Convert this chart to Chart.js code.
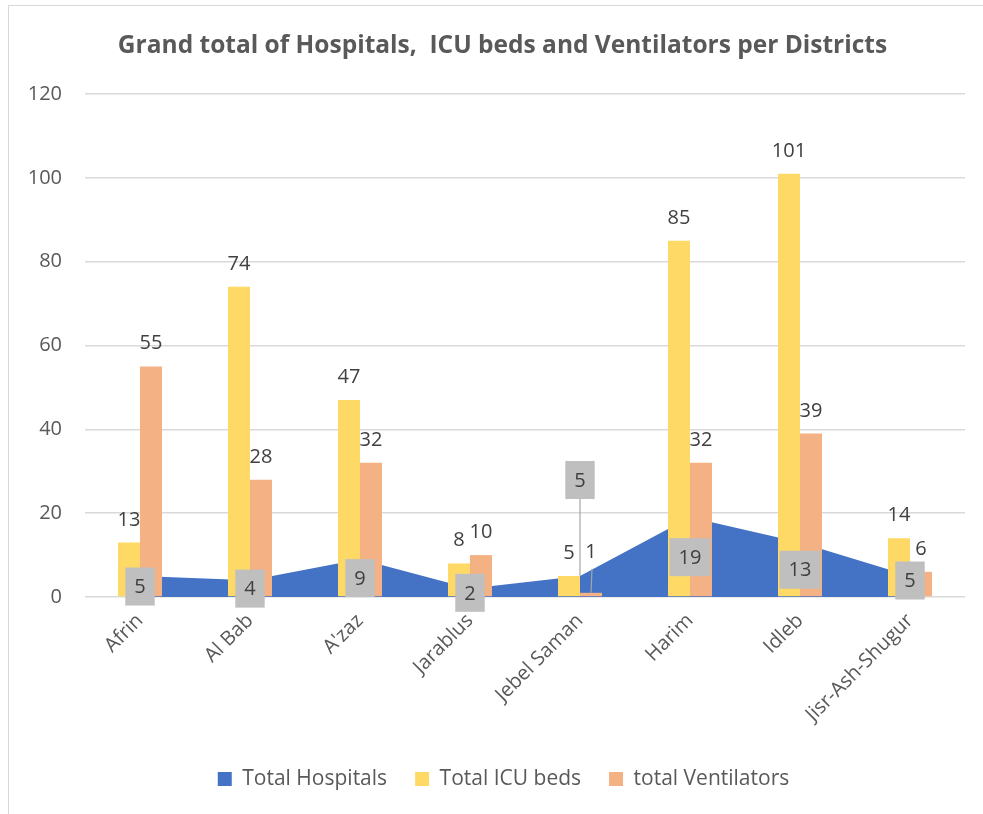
<!DOCTYPE html>
<html>
<head>
<meta charset="utf-8">
<script src="https://cdn.jsdelivr.net/npm/chart.js@4.4.0/dist/chart.umd.min.js"></script>
<style>
  html, body { margin: 0; padding: 0; background: #ffffff; overflow: hidden; }
  #wrap { position: relative; width: 983px; height: 814px; }
  #frame { position: absolute; left: 8px; top: 5px; width: 1000px; height: 830px; border: 1px solid #D9D9D9; box-sizing: border-box; }
  canvas { position: absolute; left: 0; top: 0; }
</style>
</head>
<body>
<div id="wrap">
  <div id="frame"></div>
  <canvas id="c" width="983" height="814"></canvas>
</div>
<script>
const categories = ['Afrin', 'Al Bab', "A'zaz", 'Jarablus', 'Jebel Saman', 'Harim', 'Idleb', 'Jisr-Ash-Shugur'];
const totalHospitals = [5, 4, 9, 2, 5, 19, 13, 5];
const totalIcuBeds = [13, 74, 47, 8, 5, 85, 101, 14];
const totalVentilators = [55, 28, 32, 10, 1, 32, 39, 6];
const seriesNames = ['Total Hospitals', 'Total ICU beds', 'total Ventilators'];
const chartTitle = 'Grand total of Hospitals,  ICU beds and Ventilators per Districts';

const FONT = '"Open Sans", Lato, sans-serif';
const TEXT = '#404040';
const MUTED = '#595959';

// shift title and legend so they are centred on the outer chart frame
const centerShift = {
  id: 'centerShift',
  afterLayout(chart) {
    if (chart.legend) chart.legend.left += 42;
    if (chart.titleBlock) chart.titleBlock.left += 40;
  }
};

const labelPlugin = {
  id: 'valueLabels',
  afterDatasetsDraw(chart) {
    const ctx = chart.ctx;
    const y = chart.scales.y;
    const base = y.getPixelForValue(0);
    ctx.save();
    ctx.font = '20px ' + FONT;
    ctx.textAlign = 'center';
    // bar labels
    [1, 2].forEach(di => {
      const meta = chart.getDatasetMeta(di);
      const data = chart.data.datasets[di].data;
      meta.data.forEach((el, i) => {
        let ty = el.y - 17;
        if (di === 2 && i === 4) {
          ty = el.y - 35;
          ctx.strokeStyle = '#A6A6A6';
          ctx.lineWidth = 1.2;
          ctx.beginPath();
          ctx.moveTo(el.x + 1, el.y - 24);
          ctx.lineTo(el.x, el.y);
          ctx.stroke();
        }
        ctx.fillStyle = TEXT;
        ctx.textBaseline = 'alphabetic';
        ctx.fillText(String(data[i]), el.x, ty);
      });
    });
    // area labels in boxes
    const meta0 = chart.getDatasetMeta(0);
    const data0 = chart.data.datasets[0].data;
    meta0.data.forEach((el, i) => {
      const txt = String(data0[i]);
      const w = ctx.measureText(txt).width + 18;
      const h = 38;
      let cy = (el.y + base) / 2;
      if (i === 4) {
        cy = 480;
        ctx.strokeStyle = '#A6A6A6';
        ctx.lineWidth = 1.2;
        ctx.beginPath();
        ctx.moveTo(el.x, cy + h / 2);
        ctx.lineTo(el.x, el.y);
        ctx.stroke();
      }
      if (i === 7) cy -= 6;
      ctx.fillStyle = '#BFBFBF';
      ctx.fillRect(el.x - w / 2, cy - h / 2, w, h);
      ctx.fillStyle = TEXT;
      ctx.textBaseline = 'middle';
      ctx.fillText(txt, el.x, cy + 1);
    });
    ctx.restore();
  }
};

new Chart(document.getElementById('c'), {
  data: {
    labels: categories,
    datasets: [
      {
        type: 'line',
        label: seriesNames[0],
        data: totalHospitals,
        backgroundColor: '#4472C4',
        borderColor: '#4472C4',
        borderWidth: 0,
        fill: 'origin',
        tension: 0,
        pointRadius: 0,
        order: 3
      },
      {
        type: 'bar',
        label: seriesNames[1],
        data: totalIcuBeds,
        backgroundColor: '#FFD966',
        order: 1,
        categoryPercentage: 0.4,
        barPercentage: 1.0
      },
      {
        type: 'bar',
        label: seriesNames[2],
        data: totalVentilators,
        backgroundColor: '#F4B183',
        order: 1,
        categoryPercentage: 0.4,
        barPercentage: 1.0
      }
    ]
  },
  options: {
    responsive: false,
    animation: false,
    layout: { padding: { left: 0, right: 18, top: 0, bottom: 14.5 } },
    plugins: {
      tooltip: { enabled: false },
      title: {
        display: true,
        text: chartTitle,
        color: MUTED,
        font: { family: FONT, size: 24.5, weight: 'bold', lineHeight: 1.2 },
        padding: { top: 31, bottom: 33.6 }
      },
      legend: {
        position: 'bottom',
        labels: {
          sort: (a, b) => a.datasetIndex - b.datasetIndex,
          color: MUTED,
          font: { family: FONT, size: 21 },
          boxWidth: 14,
          boxHeight: 14,
          padding: 28
        }
      }
    },
    scales: {
      x: {
        grid: { display: false, drawTicks: false },
        border: { display: false },
        ticks: {
          color: MUTED,
          font: { family: FONT, size: 20 },
          minRotation: 45,
          maxRotation: 45,
          padding: 12
        },
        afterFit: s => { s.height = 143.5; }
      },
      y: {
        min: 0,
        max: 120,
        grid: { color: '#D9D9D9', lineWidth: 1.5, drawTicks: false },
        border: { display: false },
        ticks: {
          stepSize: 20,
          color: MUTED,
          font: { family: FONT, size: 20 },
          padding: 23
        },
        afterFit: s => { s.width = 85; }
      }
    }
  },
  plugins: [labelPlugin, centerShift]
});
</script>
</body>
</html>
